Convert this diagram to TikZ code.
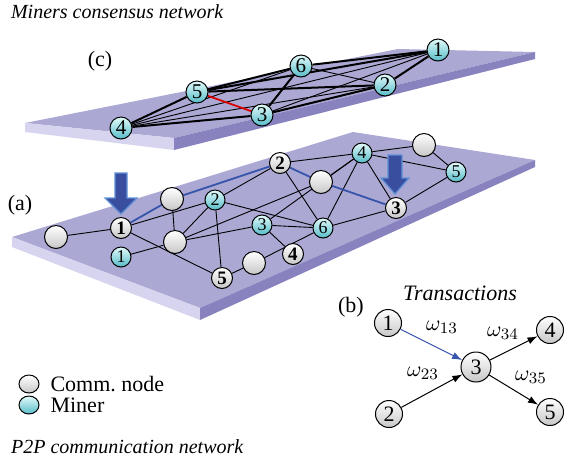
\documentclass[tikz,border=0pt]{standalone}
\usepackage{amsmath}
\usepackage{fontspec}
\setmainfont{Liberation Serif}
\usetikzlibrary{arrows.meta, positioning, backgrounds, shapes.geometric}
\definecolor{platetop}{RGB}{171,168,212}
\definecolor{plateleft}{RGB}{214,212,238}
\definecolor{plateright}{RGB}{136,131,190}
\definecolor{minerhi}{RGB}{226,250,250}
\definecolor{minerlo}{RGB}{86,188,200}
\definecolor{pathblue}{RGB}{55,85,170}
\definecolor{arrowblue}{RGB}{58,78,160}
\definecolor{arrowedge}{RGB}{95,145,215}
\pgfdeclarelayer{edges}
\pgfsetlayers{background,edges,main}

\begin{document}
\begin{tikzpicture}[x=0.5pt, y=-0.5pt,
    comm/.style={circle, draw, line width=0.5pt, shading=axis, top color=white, bottom color=black!22, inner sep=0pt, minimum size=10.5pt, font=\fontsize{9.5}{10}\selectfont\bfseries},
    idle/.style={comm, minimum size=11.5pt},
    miner/.style={circle, draw, line width=0.5pt, shading=axis, top color=minerhi, bottom color=minerlo, inner sep=0pt, minimum size=10pt, font=\fontsize{9}{10}\selectfont},
    upminer/.style={miner, minimum size=11pt, font=\fontsize{10.5}{11}\selectfont},
    tx/.style={comm, minimum size=13.5pt, font=\fontsize{11}{12}\selectfont},
    link/.style={line width=0.45pt},
    heavy/.style={line width=1pt},
    bluelink/.style={line width=0.9pt, color=pathblue},
    redlink/.style={line width=0.9pt, color=red!85!black},
    txarr/.style={-{Latex[length=5pt, width=3.6pt]}, line width=0.5pt},
    bigarrow/.style={fill=arrowblue, draw=arrowedge, line width=0.6pt, line join=miter},
    lbl/.style={font=\fontsize{11}{13}\selectfont},
    ttl/.style={font=\fontsize{10}{12}\selectfont\itshape, anchor=west},
    wt/.style={font=\fontsize{11}{13}\selectfont}
]
\useasboundingbox (0,0) rectangle (569,468);

% plates
\begin{scope}[on background layer]
\fill[platetop] (25,123) -- (398,49) -- (535,52) -- (174,138) -- cycle;
\fill[plateleft] (25,123) -- (174,138) -- (174,150) -- (25,132) -- cycle;
\fill[plateright] (174,138) -- (535,52) -- (535,59) -- (174,150) -- cycle;
\fill[platetop] (12,237) -- (353,132) -- (535,160) -- (200,308) -- cycle;
\fill[plateleft] (12,237) -- (200,308) -- (200,320) -- (12,247) -- cycle;
\fill[plateright] (200,308) -- (535,160) -- (535,167) -- (200,320) -- cycle;
\end{scope}

% (c) miners consensus network
\node[upminer] (u1) at (438,50) {1};
\node[upminer] (u2) at (385,85) {2};
\node[upminer] (u3) at (262,115) {3};
\node[upminer] (u4) at (121,128) {4};
\node[upminer] (u5) at (197,92) {5};
\node[upminer] (u6) at (301,66) {6};

% (a) P2P communication network
\node[idle] (bA) at (56,237) {};
\node[idle] (bB) at (172,199) {};
\node[idle] (bC) at (175,242) {};
\node[idle] (bD) at (254,263) {};
\node[idle] (bE) at (321,182) {};
\node[idle] (bF) at (424,145) {};
\node[comm] (c1) at (121,228) {1};
\node[comm] (c2) at (280,163) {2};
\node[comm] (c3) at (396,208) {3};
\node[comm] (c4) at (293,254) {4};
\node[comm] (c5) at (222,278) {5};
\node[miner] (m1) at (121,257) {1};
\node[miner] (m2) at (215,200) {2};
\node[miner] (m3) at (262,225) {3};
\node[miner] (m4) at (362,153) {4};
\node[miner] (m5) at (456,172) {5};
\node[miner] (m6) at (323,228) {6};

\begin{pgfonlayer}{edges}
\foreach \a/\b in {u4/u5, u4/u3, u5/u6, u5/u1, u5/u2, u6/u1, u6/u3, u3/u2, u2/u1}
  \draw[heavy] (\a) -- (\b);
\foreach \a/\b in {u4/u6, u4/u1, u4/u2, u3/u1, u6/u2}
  \draw[link] (\a) -- (\b);
\draw[redlink] (u5) -- (u3);
\foreach \a/\b in {bA/c1, c1/m2, c1/c5, m1/bC, bB/bC, bC/m2, bC/m3, bC/bE, m2/c2, m2/m6, m2/c5,
                   m3/m6, m3/c4, m3/m4, c2/m6, c2/m4, bE/m4, m4/m6, m4/c3, m4/bF, m4/m5,
                   bF/m5, m5/c3, m6/c3, c5/bD, bD/m6}
  \draw[link] (\a) -- (\b);
\draw[bluelink] (c1) -- (bB) -- (c2) -- (bE) -- (c3);
\end{pgfonlayer}

% arrows down to the miners
\draw[bigarrow] (115,173) -- (127,173) -- (127,198) -- (137,198) -- (121,214) -- (105,198) -- (115,198) -- cycle;
\draw[bigarrow] (388,155) -- (402,155) -- (402,178) -- (409,178) -- (395,194) -- (381,178) -- (388,178) -- cycle;

% (b) transactions
\node[tx] (t1) at (388,323) {1};
\node[tx] (t2) at (389,414) {2};
\node[tx, minimum size=15pt] (t3) at (476,367) {3};
\node[tx] (t4) at (550,330) {4};
\node[tx] (t5) at (550,412) {5};
\draw[txarr, color=pathblue] (t1) -- (t3);
\draw[txarr] (t2) -- (t3);
\draw[txarr] (t3) -- (t4);
\draw[txarr] (t3) -- (t5);
\node[wt] (w13) at (442,327) {$\omega_{13}$};
\node[wt] (w23) at (423,373) {$\omega_{23}$};
\node[wt] (w34) at (503,333) {$\omega_{34}$};
\node[wt] (w35) at (531,377) {$\omega_{35}$};

% titles and legend
\node[ttl] (ctitle) at (4,12) {Miners consensus network};
\node[ttl] (atitle) at (4,447) {P2P communication network};
\node[lbl] (clab) at (100,61) {(c)};
\node[lbl] (alab) at (20,205) {(a)};
\node[lbl] (blab) at (351,307) {(b)};
\node[font=\fontsize{11}{13}\selectfont\itshape] (txtitle) at (460,293) {Transactions};
\node[ellipse, draw, line width=0.5pt, shading=axis, top color=white, bottom color=black!22, minimum width=10pt, minimum height=9pt, inner sep=0pt] (keyc) at (29,384) {};
\node[ellipse, draw, line width=0.5pt, shading=axis, top color=minerhi, bottom color=minerlo, minimum width=10pt, minimum height=9pt, inner sep=0pt] (keym) at (29,405) {};
\node[lbl, right=2pt of keyc] (keyctext) {Comm.\ node};
\node[lbl, right=2pt of keym] (keymtext) {Miner};
\end{tikzpicture}
\end{document}
